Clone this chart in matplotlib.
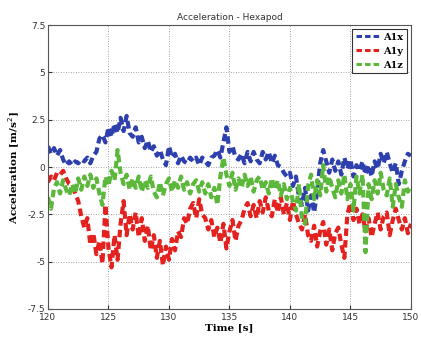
import numpy as np
import matplotlib
matplotlib.use("Agg")
import matplotlib.pyplot as plt

t_start, t_step = 120.0, 0.25

a1x = [1.1, 0.7, 1.0, 0.6, 0.9, 0.4, 0.1, 0.3,
       0.1, 0.3, 0.2, 0.4, 0.3, 0.5, 0.2, 0.6,
       0.8, 1.5, 1.7, 1.3, 2.1, 1.6, 2.3, 1.8,
       2.6, 1.9, 2.7, 1.8, 1.6, 2.1, 1.3, 1.6,
       1.0, 1.4, 0.8, 1.1, 0.6, 0.9, 0.4, 0.1,
       1.1, 0.5, 0.7, 0.2, 0.6, 0.3, 0.2, 0.5,
       0.3, 0.5, 0.1, 0.5, 0.3, 0.1, 0.5, 0.6,
       0.9, 0.5, 1.3, 2.1, 0.8, 1.1, 0.5, 0.4,
       0.7, 0.2, 0.8, 0.3, 0.8, 0.4, 0.2, 0.8,
       0.4, 0.8, 0.2, 0.6, 0.1, 0.0, -0.3, -0.5,
       -0.3, -1.0, -0.5, -1.6, -2.0, -1.1, -2.3, -1.5,
       -2.4, -1.3, 0.2, 0.9, 0.3, -0.3, 0.4, -0.2,
       0.3, -0.4, 0.5, -0.1, 0.4, -0.5, 0.1, -0.2,
       0.3, -0.4, 0.1, -0.5, 0.3, -0.1, 0.7, 0.2,
       0.8, 0.2, -0.3, 0.2, -0.9, -0.2, 0.3, 0.7,
       0.6]

a1y = [-0.8, -0.5, -0.7, -0.3, -0.4, -0.2, -0.6, -0.9,
       -1.0, -1.4, -1.8, -2.6, -3.2, -2.7, -4.1, -3.5,
       -4.6, -3.9, -5.1, -2.0, -4.3, -5.3, -3.6, -4.9,
       -3.0, -1.8, -3.6, -2.5, -3.3, -2.4, -3.7, -2.7,
       -3.9, -3.1, -4.4, -3.6, -4.8, -3.9, -5.2, -4.2,
       -4.9, -3.8, -4.4, -3.4, -3.7, -2.7, -3.0, -2.2,
       -1.9, -2.7, -1.7, -2.5, -2.7, -3.3, -2.8, -3.7,
       -3.2, -4.0, -3.0, -4.3, -3.4, -2.8, -3.9, -3.1,
       -2.8, -2.2, -1.9, -2.6, -2.0, -2.7, -1.8, -2.4,
       -1.6, -2.3, -2.6, -1.7, -2.4, -1.6, -2.5, -1.9,
       -2.8, -1.8, -2.5, -3.0, -3.3, -2.5, -3.6, -3.9,
       -3.1, -4.2, -3.4, -2.9, -4.1, -3.3, -4.4, -3.5,
       -3.2, -4.1, -4.8, -2.5, -1.9, -2.8, -2.2, -3.0,
       -2.5, -3.4, -2.7, -3.7, -3.0, -2.4, -3.3, -2.6,
       -2.4, -3.6, -2.8, -2.2, -2.8, -3.3, -2.7, -3.5,
       -3.0]

a1z = [-1.6, -2.2, -1.1, -0.8, -1.4, -0.7, -1.2, -1.5,
       -0.9, -1.4, -0.6, -1.2, -0.5, -1.0, -0.4, -1.1,
       -0.6, -1.4, -2.0, -0.5, -1.0, -0.2, -0.7, 0.9,
       -0.3, -0.9, -0.4, -1.2, -0.6, -1.1, -0.5, -1.3,
       -0.7, -1.1, -0.5, -1.3, -1.6, -0.8, -1.5, -0.9,
       -0.6, -1.3, -0.7, -1.1, -0.5, -1.2, -0.8, -1.4,
       -0.9, -0.7, -1.3, -0.8, -1.4, -0.9, -1.6, -1.1,
       -2.0, -0.5, 0.5, -0.4, -1.0, -0.3, -1.2, -0.6,
       -1.1, -0.4, -1.0, -0.5, -1.3, -0.7, -0.5, -1.2,
       -0.8, -1.4, -0.6, -1.2, -0.7, -1.5, -0.9, -1.7,
       -1.1, -1.8, -2.3, -0.9, -2.8, -3.0, -1.0, -0.4,
       -1.7, -0.7, -1.5, 0.1, -1.3, -0.5, -1.1, -1.6,
       -0.7, -1.4, -0.4, -1.7, -0.9, -2.3, -0.5, -1.4,
       -0.4, -4.5, -0.9, -1.7, -0.7, -1.4, -0.3, -1.2,
       -1.5, -0.6, -2.1, -0.9, -1.6, -2.1, -0.7, -1.3,
       -1.0]

series_names = ["A1x", "A1y", "A1z"]
xticks = [120, 125, 130, 135, 140, 145, 150]
yticks = [-7.5, -5, -2.5, 0, 2.5, 5, 7.5]
ytick_labels = ["-7.5", "-5", "-2.5", "0", "2.5", "5", "7.5"]

t = t_start + t_step * np.arange(len(a1x))

colors = ["#2e3fae", "#e3211f", "#5cb83a"]

fig = plt.figure(figsize=(4.21, 3.39), dpi=100)
ax = fig.add_axes([0.114, 0.0885, 0.862, 0.8375])

for vals, name, c in zip([a1x, a1y, a1z], series_names, colors):
    ax.plot(t, vals, color=c, lw=3.0, ls=(0, (1.8, 1.0)), label=name)

ax.set_xlim(120, 150)
ax.set_ylim(-7.5, 7.5)
ax.set_xticks(xticks)
ax.set_yticks(yticks)
ax.set_yticklabels(ytick_labels)
ax.tick_params(labelsize=6.5, colors="#333333", direction="in", length=3, pad=2)
ax.tick_params(axis="x", pad=3)
ax.grid(True, ls=(0, (1, 2)), color="#888888", lw=0.6)
for s in ax.spines.values():
    s.set_color("#555555")
    s.set_linewidth(0.8)

ax.set_title("Acceleration - Hexapod", fontsize=6.5, color="#333333", pad=4)
ax.set_xlabel("Time [s]", family="DejaVu Serif", fontweight="bold", fontsize=7.5, labelpad=1)
ax.set_ylabel(r"Acceleration [m/s$^2$]", family="DejaVu Serif", fontweight="bold", fontsize=7.5, labelpad=4)

leg = ax.legend(loc="upper right", prop={"family": "DejaVu Serif", "weight": "bold", "size": 7},
                fancybox=False, framealpha=1, edgecolor="#333333", handlelength=2.4,
                borderaxespad=0.4, labelspacing=0.5, handletextpad=0.4)
leg.get_frame().set_linewidth(0.8)
for line in leg.get_lines():
    line.set_linewidth(2.2)

fig.savefig("out.png", dpi=100)
